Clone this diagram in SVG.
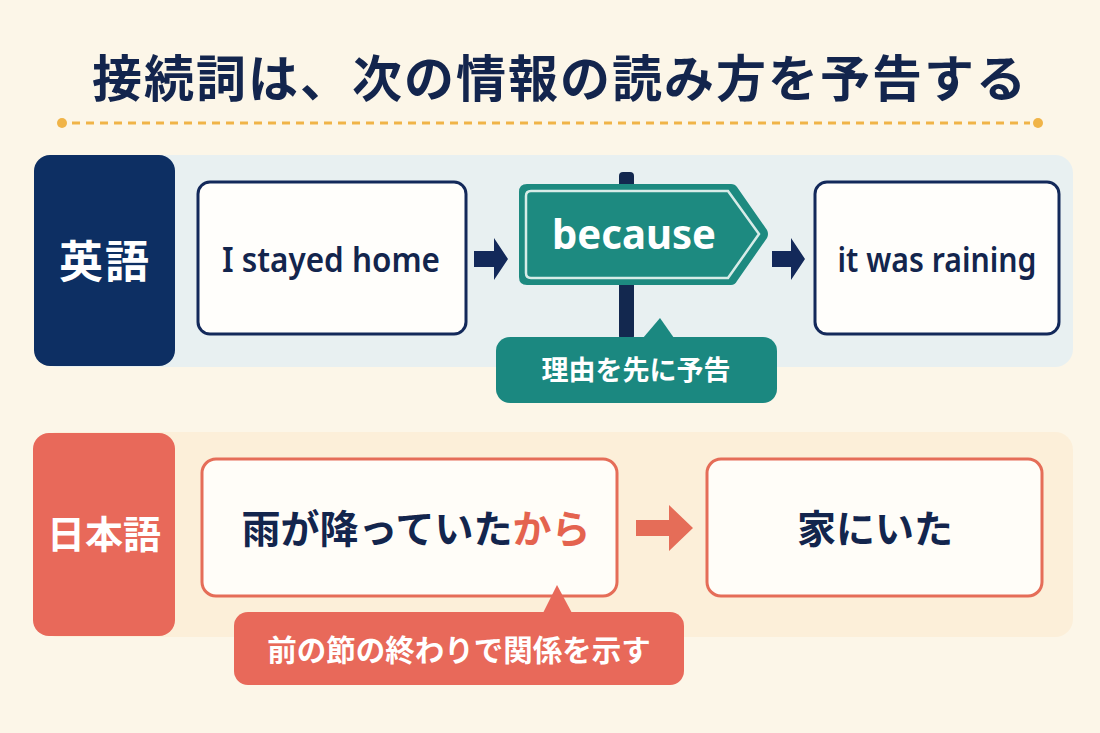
<svg xmlns="http://www.w3.org/2000/svg" width="1100" height="733" viewBox="0 0 1100 733">
<style>
.jp{font-family:"Noto Sans CJK JP","Noto Sans",sans-serif;font-weight:700}
.en{font-family:"Noto Sans","Liberation Sans",sans-serif;font-weight:600}
.navy{fill:#13254d}
.white{fill:#ffffff}
.boxE{fill:#fffefb;stroke:#13295a;stroke-width:3}
.boxJ{fill:#fffdf8;stroke:#e56d58;stroke-width:3}
</style>
<rect width="1100" height="733" fill="#fcf6e8"/>
<g id="title">
<text x="560" y="97" text-anchor="middle" class="jp navy" font-size="50" letter-spacing="2">接続詞は、次の情報の読み方を予告する</text>
<line x1="72" y1="123" x2="1030" y2="123" stroke="#f0b448" stroke-width="3" stroke-dasharray="8,6"/>
<circle cx="62" cy="123" r="5" fill="#f0b448"/>
<circle cx="1038" cy="123" r="5" fill="#f0b448"/>
</g>
<g id="panel-en">
<rect x="40" y="155" width="1033" height="212" rx="18" fill="#e8f0f1"/>
</g>
<g id="panel-ja">
<rect x="40" y="432" width="1033" height="205" rx="18" fill="#fcefd9"/>
</g>
<g id="label-en">
<rect x="34" y="155" width="141" height="211" rx="16" fill="#0d2f63"/>
<text x="105" y="278" text-anchor="middle" class="jp white" font-size="44" letter-spacing="2">英語</text>
</g>
<g id="label-ja">
<rect x="33" y="433" width="142" height="203" rx="16" fill="#e8695a"/>
<text x="104" y="548" text-anchor="middle" class="jp white" font-size="38">日本語</text>
</g>
<g id="en-clause1">
<rect x="198" y="182" width="268" height="152" rx="12" class="boxE"/>
<text x="331" y="272" text-anchor="middle" class="en navy" font-size="34" textLength="218" lengthAdjust="spacingAndGlyphs">I stayed home</text>
</g>
<g id="because-sign">
<rect x="619" y="172" width="15" height="168" rx="4" fill="#13284f"/>
<path d="M527,184 L731,184 Q735,184 737,187 L767,230 Q769,234 767,238 L737,281 Q735,285 731,285 L527,285 Q519,285 519,277 L519,192 Q519,184 527,184 Z" fill="#1d8a80"/>
<path d="M531,191 L728,191 L759,234 L728,278 L531,278 Q526,278 526,273 L526,196 Q526,191 531,191 Z" fill="none" stroke="#d7ece8" stroke-width="2.5"/>
<text x="634" y="249" text-anchor="middle" font-family="Noto Sans, Liberation Sans, sans-serif" font-weight="700" font-size="41" fill="#ffffff" textLength="164" lengthAdjust="spacingAndGlyphs">because</text>
</g>
<g id="en-clause2">
<rect x="815" y="182" width="244" height="152" rx="12" class="boxE"/>
<text x="937" y="272" text-anchor="middle" class="en navy" font-size="34" textLength="199" lengthAdjust="spacingAndGlyphs">it was raining</text>
</g>
<g id="callout-en">
<path d="M643,338 L660,318 L674,338 Z" fill="#1b8880"/>
<rect x="496" y="337" width="281" height="66" rx="14" fill="#1b8880"/>
<text x="636" y="380" text-anchor="middle" class="jp white" font-size="27">理由を先に予告</text>
</g>
<g id="ja-clause1">
<rect x="202" y="459" width="415" height="137" rx="14" class="boxJ"/>
<text x="416" y="543" text-anchor="middle" class="jp navy" font-size="39">雨が降っていた<tspan fill="#e4634f">から</tspan></text>
</g>
<g id="ja-clause2">
<rect x="707" y="459" width="335" height="137" rx="14" class="boxJ"/>
<text x="875" y="543" text-anchor="middle" class="jp navy" font-size="39">家にいた</text>
</g>
<g id="callout-ja">
<path d="M543,613 L557,585 L572,613 Z" fill="#e8695a"/>
<rect x="234" y="612" width="450" height="73" rx="14" fill="#e8695a"/>
<text x="459" y="661" text-anchor="middle" class="jp white" font-size="29.5">前の節の終わりで関係を示す</text>
</g>
<g id="connectors">
<path d="M474,251 L494,251 L494,238 L508,259 L494,280 L494,267 L474,267 Z" fill="#13295a"/>
<path d="M772,251 L791,251 L791,238 L805,259 L791,280 L791,267 L772,267 Z" fill="#13295a"/>
<path d="M636,520 L669,520 L669,505 L693,528 L669,551 L669,536 L636,536 Z" fill="#e56d58"/>
</g>
</svg>
